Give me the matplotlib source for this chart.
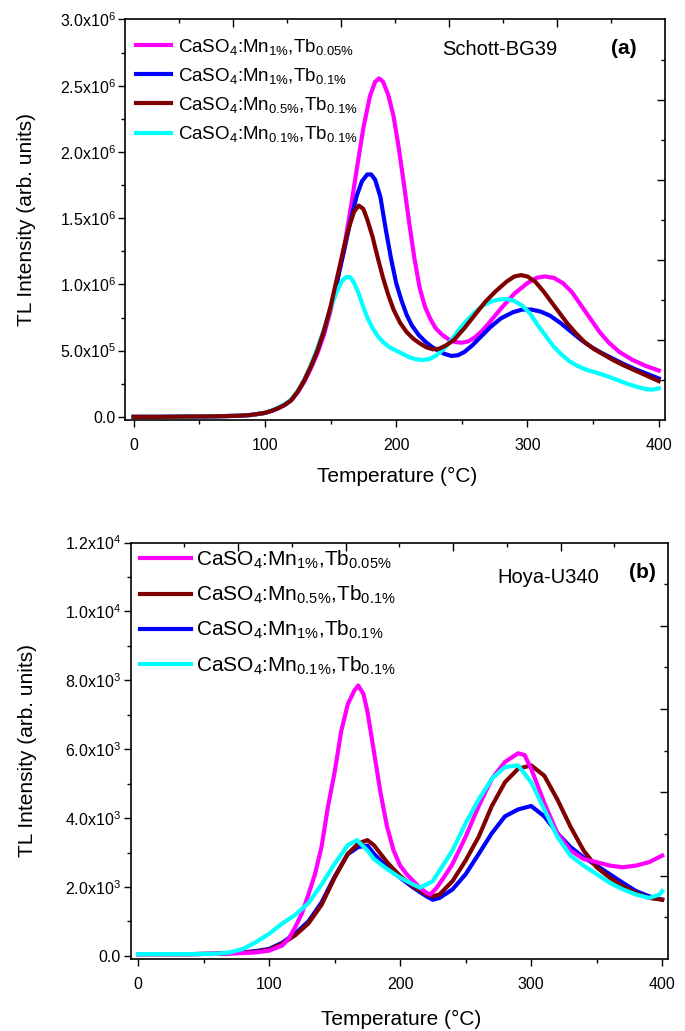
import matplotlib
matplotlib.use("Agg")
import matplotlib.pyplot as plt
import numpy as np
from matplotlib.ticker import MultipleLocator, FuncFormatter

plt.rcParams['font.family'] = ['Liberation Sans', 'DejaVu Sans']
plt.rcParams['mathtext.fontset'] = 'custom'
plt.rcParams['mathtext.rm'] = 'Liberation Sans'
plt.rcParams['mathtext.it'] = 'Liberation Sans:italic'
plt.rcParams['mathtext.bf'] = 'Liberation Sans:bold'

# ---- panel (a): Schott-BG39, intensity in units of 1e6 ----
a_mag_x = [0, 20, 40, 60, 80, 90, 100, 105, 110, 115, 120, 125, 130, 135, 140, 145, 150, 155, 160,
           165, 170, 175, 180, 184, 187, 190, 194, 198, 202, 206, 210, 214, 218, 222, 226, 230, 235,
           240, 245, 250, 255, 260, 265, 270, 280, 290, 300, 307, 313, 320, 327, 334, 341, 348, 355,
           362, 370, 380, 390, 400]
a_mag_y = [0.0, 0.0, 0.002, 0.004, 0.008, 0.015, 0.03, 0.045, 0.065, 0.09, 0.125, 0.185, 0.265,
           0.365, 0.48, 0.62, 0.8, 1.02, 1.26, 1.55, 1.87, 2.18, 2.42, 2.53, 2.555, 2.53, 2.43, 2.27,
           2.03, 1.75, 1.46, 1.19, 0.97, 0.83, 0.74, 0.67, 0.62, 0.585, 0.565, 0.56, 0.57, 0.6, 0.645,
           0.7, 0.82, 0.93, 1.01, 1.05, 1.06, 1.05, 1.01, 0.94, 0.84, 0.74, 0.64, 0.56, 0.49, 0.43,
           0.385, 0.35]

a_blu_x = [0, 20, 40, 60, 80, 90, 100, 105, 110, 115, 120, 125, 130, 135, 140, 145, 150, 155, 160,
           165, 170, 174, 178, 181, 184, 188, 192, 196, 200, 204, 208, 212, 217, 222, 227, 232, 237,
           242, 247, 252, 258, 265, 272, 280, 289, 296, 303, 310, 317, 325, 333, 341, 349, 357, 365,
           373, 382, 391, 400]
a_blu_y = [0.0, 0.0, 0.002, 0.004, 0.008, 0.015, 0.03, 0.045, 0.065, 0.09, 0.125, 0.19, 0.275,
           0.38, 0.5, 0.65, 0.82, 1.02, 1.24, 1.47, 1.67, 1.78, 1.83, 1.83, 1.79, 1.66, 1.42, 1.2,
           1.01, 0.88, 0.77, 0.69, 0.62, 0.57, 0.53, 0.5, 0.475, 0.46, 0.465, 0.49, 0.54, 0.61, 0.68,
           0.745, 0.79, 0.81, 0.81, 0.795, 0.765, 0.71, 0.645, 0.58, 0.525, 0.48, 0.44, 0.4, 0.36,
           0.325, 0.29]

a_brn_x = [0, 20, 40, 60, 80, 90, 100, 105, 110, 115, 120, 125, 130, 135, 140, 145, 150, 155, 160,
           164, 168, 171.5, 175, 178, 182, 186, 190, 194, 198, 203, 208, 213, 218, 223, 228, 233, 238,
           244, 252, 260, 268, 276, 284, 290, 295, 300, 306, 312, 318, 324, 330, 337, 344, 351, 358,
           365, 373, 382, 391, 400]
a_brn_y = [0.0, 0.0, 0.002, 0.004, 0.008, 0.015, 0.03, 0.045, 0.065, 0.09, 0.125, 0.19, 0.275,
           0.38, 0.5, 0.65, 0.83, 1.05, 1.27, 1.43, 1.55, 1.595, 1.57, 1.49, 1.36, 1.2, 1.05, 0.92,
           0.81, 0.71, 0.64, 0.59, 0.555, 0.525, 0.51, 0.515, 0.54, 0.58, 0.67, 0.77, 0.87, 0.95,
           1.02, 1.06, 1.07, 1.06, 1.02, 0.95, 0.87, 0.79, 0.71, 0.63, 0.56, 0.51, 0.47, 0.43, 0.39,
           0.35, 0.31, 0.27]

a_cyn_x = [0, 20, 40, 60, 80, 90, 100, 105, 110, 115, 120, 125, 130, 135, 140, 145, 150, 155, 159,
           162, 165, 168, 171.5, 175, 178, 182, 186, 190, 195, 200, 205, 210, 215, 220, 225, 230, 236,
           242, 248, 254, 260, 266, 272, 278, 284, 290, 296, 302, 308, 314, 320, 326, 332, 338, 345,
           352, 360, 368, 376, 384, 390, 395, 400]
a_cyn_y = [0.0, 0.0, 0.002, 0.004, 0.008, 0.015, 0.03, 0.047, 0.068, 0.095, 0.13, 0.195, 0.28,
           0.39, 0.52, 0.66, 0.82, 0.95, 1.03, 1.055, 1.055, 1.01, 0.93, 0.83, 0.75, 0.67, 0.61,
           0.565, 0.525, 0.5, 0.475, 0.45, 0.435, 0.43, 0.435, 0.46, 0.51, 0.58, 0.66, 0.73, 0.79,
           0.84, 0.87, 0.885, 0.89, 0.875, 0.84, 0.78, 0.69, 0.61, 0.53, 0.47, 0.42, 0.385, 0.355,
           0.335, 0.31, 0.28, 0.25, 0.225, 0.21, 0.205, 0.215]

# ---- panel (b): Hoya-U340, intensity in units of 1e3 ----
b_mag_x = [0, 20, 40, 60, 80, 90, 100, 110, 115, 120, 125, 130, 135, 140, 145, 150, 155, 160, 165,
           168, 172, 175, 180, 185, 190, 195, 200, 205, 210, 215, 220, 223, 228, 235, 240, 250, 260,
           270, 280, 290, 295, 300, 305, 310, 320, 330, 340, 350, 360, 370, 380, 390, 400]
b_mag_y = [0.05, 0.05, 0.05, 0.06, 0.08, 0.1, 0.15, 0.3, 0.5, 0.84, 1.23, 1.78, 2.37, 3.16, 4.35,
           5.33, 6.52, 7.3, 7.7, 7.85, 7.6, 7.1, 5.93, 4.74, 3.75, 3.06, 2.62, 2.37, 2.17, 1.98,
           1.83, 1.78, 1.98, 2.37, 2.67, 3.46, 4.35, 5.14, 5.63, 5.88, 5.83, 5.43, 4.94, 4.44,
           3.56, 3.06, 2.81, 2.72, 2.62, 2.57, 2.62, 2.72, 2.91]

b_brn_x = [0, 20, 40, 60, 80, 90, 100, 110, 120, 130, 140, 150, 160, 168, 175, 180, 190, 200,
           210, 220, 225, 230, 240, 250, 260, 270, 280, 290, 300, 310, 320, 330, 340, 350, 360,
           370, 380, 390, 400]
b_brn_y = [0.05, 0.05, 0.05, 0.06, 0.09, 0.12, 0.18, 0.35, 0.6, 0.94, 1.48, 2.27, 2.96, 3.26,
           3.36, 3.21, 2.72, 2.32, 2.02, 1.78, 1.73, 1.78, 2.17, 2.77, 3.46, 4.35, 5.04, 5.43,
           5.53, 5.23, 4.54, 3.75, 3.06, 2.57, 2.27, 2.02, 1.83, 1.68, 1.63]

b_blu_x = [0, 20, 40, 60, 80, 90, 100, 110, 120, 130, 140, 150, 160, 168, 175, 180, 190, 200,
           210, 220, 225, 230, 240, 250, 260, 270, 280, 290, 300, 310, 320, 330, 340, 350, 360,
           370, 380, 390, 400]
b_blu_y = [0.05, 0.05, 0.05, 0.06, 0.1, 0.14, 0.2, 0.38, 0.65, 1.0, 1.55, 2.3, 2.95, 3.16, 3.2,
           2.96, 2.57, 2.27, 1.98, 1.73, 1.63, 1.68, 1.93, 2.37, 2.96, 3.56, 4.05, 4.25, 4.35,
           4.05, 3.56, 3.16, 2.86, 2.62, 2.37, 2.12, 1.88, 1.73, 1.63]

b_cyn_x = [0, 20, 40, 60, 70, 80, 90, 100, 110, 120, 130, 140, 150, 160, 167, 175, 180, 190, 200,
           210, 215, 220, 225, 230, 240, 250, 260, 270, 280, 290, 300, 310, 320, 330, 340, 350,
           360, 370, 380, 390, 398, 400]
b_cyn_y = [0.05, 0.05, 0.05, 0.06, 0.1, 0.2, 0.4, 0.64, 0.94, 1.19, 1.53, 2.07, 2.67, 3.21, 3.36,
           3.06, 2.81, 2.52, 2.27, 2.07, 1.98, 2.07, 2.17, 2.47, 3.06, 3.85, 4.54, 5.14, 5.48,
           5.53, 5.04, 4.25, 3.46, 2.91, 2.62, 2.37, 2.12, 1.93, 1.78, 1.68, 1.78, 1.88]

lab_mag = r'CaSO$_\mathrm{4}$:Mn$_\mathrm{1\%}$,Tb$_\mathrm{0.05\%}$'
lab_blu = r'CaSO$_\mathrm{4}$:Mn$_\mathrm{1\%}$,Tb$_\mathrm{0.1\%}$'
lab_brn = r'CaSO$_\mathrm{4}$:Mn$_\mathrm{0.5\%}$,Tb$_\mathrm{0.1\%}$'
lab_cyn = r'CaSO$_\mathrm{4}$:Mn$_\mathrm{0.1\%}$,Tb$_\mathrm{0.1\%}$'

c_mag, c_blu, c_brn, c_cyn = '#FF00FF', '#0000FF', '#800000', '#00FFFF'


def sci_fmt(v, pos):
    if v == 0:
        return '0.0'
    e = int(np.floor(np.log10(abs(v)) + 1e-9))
    m = v / 10 ** e
    return r'%.1fx10$^\mathrm{%d}$' % (m, e)


def style_axes(fig, ax, xlim, ylim, ymajor):
    ax.set_xlim(*xlim)
    ax.set_ylim(*ylim)
    ax.xaxis.set_major_locator(MultipleLocator(100))
    ax.xaxis.set_minor_locator(MultipleLocator(50))
    ax.yaxis.set_major_locator(MultipleLocator(ymajor))
    ax.yaxis.set_minor_locator(MultipleLocator(ymajor / 2))
    ax.yaxis.set_major_formatter(FuncFormatter(sci_fmt))
    ax.tick_params(which='major', direction='out', length=5, width=1, labelsize=11.5, pad=2)
    ax.tick_params(which='minor', direction='out', length=3, width=1)
    ax.tick_params(axis='x', which='major', pad=8)
    for s in ax.spines.values():
        s.set_linewidth(1.2)
    # mirrored top/right ticks (inward, 10 equal divisions)
    ov = fig.add_axes(ax.get_position(), frameon=False)
    ov.set_xlim(0, 1)
    ov.set_ylim(0, 1)
    ov.set_xticks([0.2, 0.4, 0.6, 0.8])
    ov.set_xticks([0.1, 0.3, 0.5, 0.7, 0.9], minor=True)
    ov.set_yticks([0.2, 0.4, 0.6, 0.8])
    ov.set_yticks([0.1, 0.3, 0.5, 0.7, 0.9], minor=True)
    ov.tick_params(which='both', direction='in', top=True, right=True, bottom=False, left=False,
                   labeltop=False, labelright=False, labelbottom=False, labelleft=False, width=1)
    ov.tick_params(which='major', length=5.5)
    ov.tick_params(which='minor', length=3)


fig = plt.figure(figsize=(6.85, 10.31), dpi=100)

# panel (a)
ax1 = fig.add_axes([0.1831, 0.5922, 0.7874, 0.3889])
s = 1e6
l_mag, = ax1.plot(a_mag_x, np.array(a_mag_y) * s, color=c_mag, lw=3, label=lab_mag)
l_blu, = ax1.plot(a_blu_x, np.array(a_blu_y) * s, color=c_blu, lw=3, label=lab_blu)
l_cyn, = ax1.plot(a_cyn_x, np.array(a_cyn_y) * s, color=c_cyn, lw=3, label=lab_cyn)
l_brn, = ax1.plot(a_brn_x, np.array(a_brn_y) * s, color=c_brn, lw=3, label=lab_brn)
ax1.legend(handles=[l_mag, l_blu, l_brn, l_cyn], loc='upper left', bbox_to_anchor=(-0.005, 0.99),
           frameon=False, fontsize=13.5, handlelength=1.87, handletextpad=0.37, labelspacing=0.49,
           borderaxespad=0.3)
ax1.text(0.694, 0.926, 'Schott-BG39', transform=ax1.transAxes, ha='center', va='center', fontsize=14.5)
ax1.text(0.924, 0.928, '(a)', transform=ax1.transAxes, ha='center', va='center', fontsize=15,
         fontweight='bold')
ax1.set_xlabel('Temperature (°C)', fontsize=15)
ax1.set_ylabel('TL Intensity (arb. units)', fontsize=15)
ax1.yaxis.set_label_coords(-0.165, 0.5)
ax1.xaxis.set_label_coords(0.503, -0.115)
style_axes(fig, ax1, (-6.2, 404.6), (-2.7e4, 3.0e6), 5e5)

# panel (b)
ax2 = fig.add_axes([0.1909, 0.0698, 0.7842, 0.404])
s = 1e3
m_blu, = ax2.plot(b_blu_x, np.array(b_blu_y) * s, color=c_blu, lw=3, label=lab_blu)
m_brn, = ax2.plot(b_brn_x, np.array(b_brn_y) * s, color=c_brn, lw=3, label=lab_brn)
m_mag, = ax2.plot(b_mag_x, np.array(b_mag_y) * s, color=c_mag, lw=3, label=lab_mag)
m_cyn, = ax2.plot(b_cyn_x, np.array(b_cyn_y) * s, color=c_cyn, lw=3, label=lab_cyn)
ax2.legend(handles=[m_mag, m_brn, m_blu, m_cyn], loc='upper left', bbox_to_anchor=(-0.01, 1.02),
           frameon=False, fontsize=15, handlelength=2.45, handletextpad=0.26, labelspacing=0.62,
           borderaxespad=0.3)
ax2.text(0.778, 0.915, 'Hoya-U340', transform=ax2.transAxes, ha='center', va='center', fontsize=14.5)
ax2.text(0.953, 0.927, '(b)', transform=ax2.transAxes, ha='center', va='center', fontsize=15,
         fontweight='bold')
ax2.set_xlabel('Temperature (°C)', fontsize=15)
ax2.set_ylabel('TL Intensity (arb. units)', fontsize=15)
ax2.yaxis.set_label_coords(-0.175, 0.5)
ax2.xaxis.set_label_coords(0.503, -0.122)
style_axes(fig, ax2, (-5.6, 404.4), (-93, 1.2e4), 2e3)

fig.savefig('out.png', dpi=100)
